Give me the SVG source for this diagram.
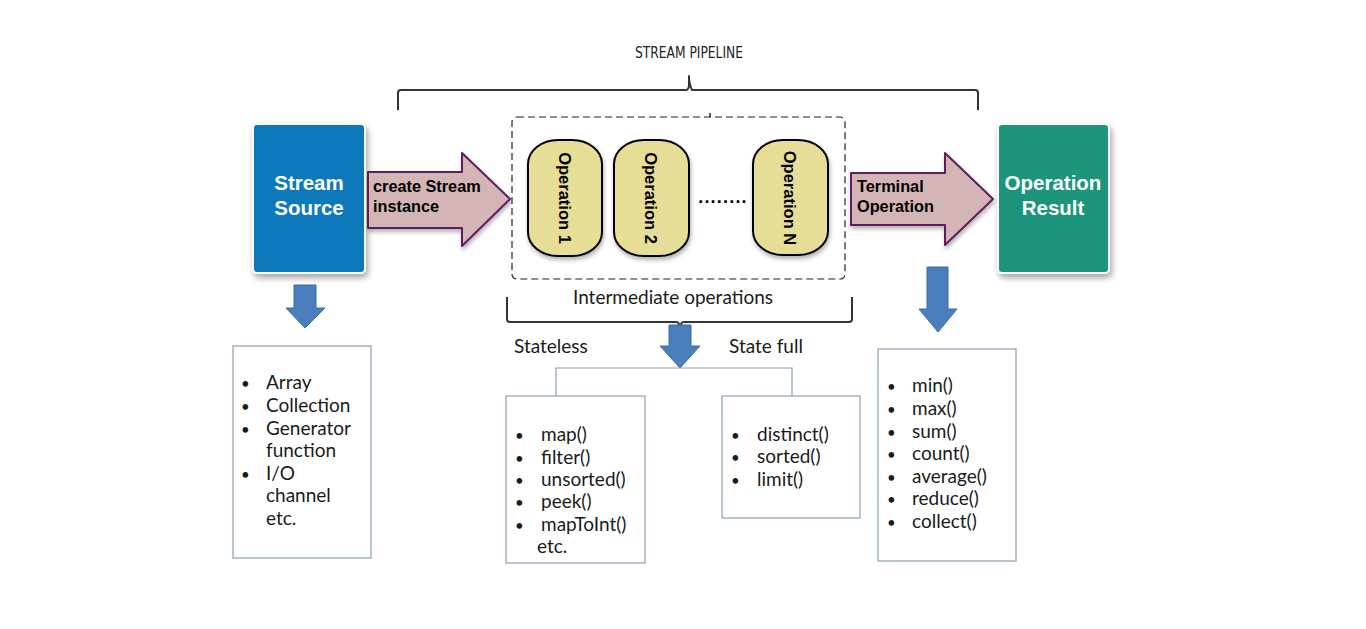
<svg xmlns="http://www.w3.org/2000/svg" width="1366" height="629" viewBox="0 0 1366 629">
<defs>
<filter id="sh" x="-20%" y="-20%" width="140%" height="140%"><feDropShadow dx="2" dy="4" stdDeviation="3" flood-color="#000" flood-opacity="0.35"/></filter>
<filter id="sh2" x="-20%" y="-20%" width="140%" height="140%"><feDropShadow dx="1" dy="3" stdDeviation="2" flood-color="#000" flood-opacity="0.3"/></filter>
</defs>
<style>
.big{font-family:"Liberation Sans",Arial,sans-serif;font-weight:bold;font-size:20.5px;fill:#fff;text-anchor:middle}
.arr{fill:#d4b5b5;stroke:#5e1e5f;stroke-width:2;stroke-linejoin:round}
.arrt{font-family:"Liberation Sans",Arial,sans-serif;font-weight:bold;font-size:16.3px;fill:#000}
.op{fill:#e6dd96;stroke:#000;stroke-width:2}
.opt{font-family:"Liberation Sans",Arial,sans-serif;font-weight:bold;font-size:16.5px;fill:#000;text-anchor:middle}
.box{fill:#fff;stroke:#8b9fb2;stroke-width:1.2}
.lst{font-family:Lato,"Open Sans",sans-serif;font-size:19px;fill:#1a1a1a}
.bul{font-size:15px}
.blue{fill:#4a7ebc;stroke:#3d6aa0;stroke-width:1}
.brace{fill:none;stroke:#333;stroke-width:2;stroke-linejoin:round}
.lab{font-family:Lato,"Open Sans",sans-serif;font-size:19px;fill:#1a1a1a}
</style>
<rect width="1366" height="629" fill="#fff"/>

<g id="pipeline-brace">
<path class="brace" d="M398,110 V93 Q398,90 401,90 H686 Q689,90 689,84 V76 Q689,84 692,90 H975 Q978,90 978,93 V110" stroke="#444" stroke-width="1.6"/>
<text x="689" y="58" font-family="'Liberation Sans Narrow','DejaVu Sans Condensed','Liberation Sans',sans-serif" font-size="15" fill="#222" text-anchor="middle" textLength="108" lengthAdjust="spacingAndGlyphs">STREAM PIPELINE</text>
</g>

<g id="stream-source">
<rect x="253" y="124" width="112" height="149" rx="4" fill="#0e79ba" stroke="#fff" stroke-width="2" filter="url(#sh)"/>
<text class="big" x="309" y="190">Stream</text>
<text class="big" x="309" y="215">Source</text>
</g>

<g id="create-arrow">
<path class="arr" d="M368,172 H462 V153 L510,199 L462,246 V228 H368 Z" filter="url(#sh2)"/>
<text class="arrt" x="373" y="192">create Stream</text>
<text class="arrt" x="373" y="212">instance</text>
</g>

<g id="intermediate-box">
<rect x="512" y="117" width="333" height="162" rx="5" fill="#fff" stroke="#222" stroke-width="1.2" stroke-dasharray="7,4"/>
<line x1="710" y1="113" x2="710" y2="117" stroke="#222" stroke-width="1.5"/>
</g>

<g id="op1">
<rect class="op" x="528" y="140" width="74" height="116" rx="30" ry="24" filter="url(#sh2)"/>
<text class="opt" transform="translate(565,198) rotate(90)" dy="6">Operation 1</text>
</g>
<g id="op2">
<rect class="op" x="614" y="140" width="75" height="116" rx="30" ry="24" filter="url(#sh2)"/>
<text class="opt" transform="translate(651,198) rotate(90)" dy="6">Operation 2</text>
</g>
<g id="dots">
<text x="723" y="203" font-family="'Liberation Sans',Arial,sans-serif" font-weight="bold" font-size="18" letter-spacing="1.2" fill="#000" text-anchor="middle">........</text>
</g>
<g id="opN">
<rect class="op" x="753" y="140" width="75" height="115" rx="30" ry="24" filter="url(#sh2)"/>
<text class="opt" transform="translate(790,198) rotate(90)" dy="6">Operation N</text>
</g>

<g id="terminal-arrow">
<path class="arr" d="M851,173 H945 V153 L993,199 L945,245 V225 H851 Z" filter="url(#sh2)"/>
<text class="arrt" x="857" y="192">Terminal</text>
<text class="arrt" x="857" y="212">Operation</text>
</g>

<g id="operation-result">
<rect x="998" y="124" width="111" height="149" rx="4" fill="#1a957a" stroke="#fff" stroke-width="2" filter="url(#sh)"/>
<text class="big" x="1053" y="190">Operation</text>
<text class="big" x="1053" y="215">Result</text>
</g>

<g id="intermediate-brace">
<path class="brace" d="M507,297 V319 Q507,322 510,322 H676 Q680,322 680,330 Q680,322 684,322 H849 Q852,322 852,319 V297"/>
<text class="lab" x="673" y="304" text-anchor="middle">Intermediate operations</text>
</g>

<g id="connectors">
<path class="blue" d="M294,285 H316 V308 H325 L305,328 L286,308 H294 Z"/>
<path class="blue" d="M669,325 H691 V346 H700 L680,368 L660,346 H669 Z"/>
<path class="blue" d="M927,267 H948 V309 H957 L938,332 L919,309 H927 Z"/>
<path d="M556,396 V368 H792 V396" fill="none" stroke="#8b9fb2" stroke-width="1.2"/>
</g>

<g id="labels">
<text class="lab" x="514" y="353">Stateless</text>
<text class="lab" x="729" y="353">State full</text>
</g>

<g id="source-list">
<rect class="box" x="233" y="346" width="138" height="212"/>
<g class="lst">
<text class="bul" x="241" y="389">•</text><text x="266" y="389">Array</text>
<text class="bul" x="241" y="412">•</text><text x="266" y="412">Collection</text>
<text class="bul" x="241" y="435">•</text><text x="266" y="435">Generator</text>
<text x="266" y="457">function</text>
<text class="bul" x="241" y="480">•</text><text x="266" y="480">I/O</text>
<text x="266" y="502">channel</text>
<text x="266" y="525">etc.</text>
</g>
</g>

<g id="stateless-list">
<rect class="box" x="506" y="396" width="139" height="167"/>
<g class="lst">
<text class="bul" x="515" y="441">•</text><text x="541" y="441">map()</text>
<text class="bul" x="515" y="464">•</text><text x="541" y="464">filter()</text>
<text class="bul" x="515" y="486">•</text><text x="541" y="486">unsorted()</text>
<text class="bul" x="515" y="508">•</text><text x="541" y="508">peek()</text>
<text class="bul" x="515" y="531">•</text><text x="541" y="531">mapToInt()</text>
<text x="537" y="553">etc.</text>
</g>
</g>

<g id="statefull-list">
<rect class="box" x="722" y="396" width="138" height="122"/>
<g class="lst">
<text class="bul" x="731" y="441">•</text><text x="757" y="441">distinct()</text>
<text class="bul" x="731" y="463">•</text><text x="757" y="463">sorted()</text>
<text class="bul" x="731" y="486">•</text><text x="757" y="486">limit()</text>
</g>
</g>

<g id="terminal-list">
<rect class="box" x="878" y="349" width="138" height="212"/>
<g class="lst">
<text class="bul" x="887" y="392">•</text><text x="912" y="392">min()</text>
<text class="bul" x="887" y="415">•</text><text x="912" y="415">max()</text>
<text class="bul" x="887" y="438">•</text><text x="912" y="438">sum()</text>
<text class="bul" x="887" y="460">•</text><text x="912" y="460">count()</text>
<text class="bul" x="887" y="483">•</text><text x="912" y="483">average()</text>
<text class="bul" x="887" y="505">•</text><text x="912" y="505">reduce()</text>
<text class="bul" x="887" y="528">•</text><text x="912" y="528">collect()</text>
</g>
</g>
</svg>
